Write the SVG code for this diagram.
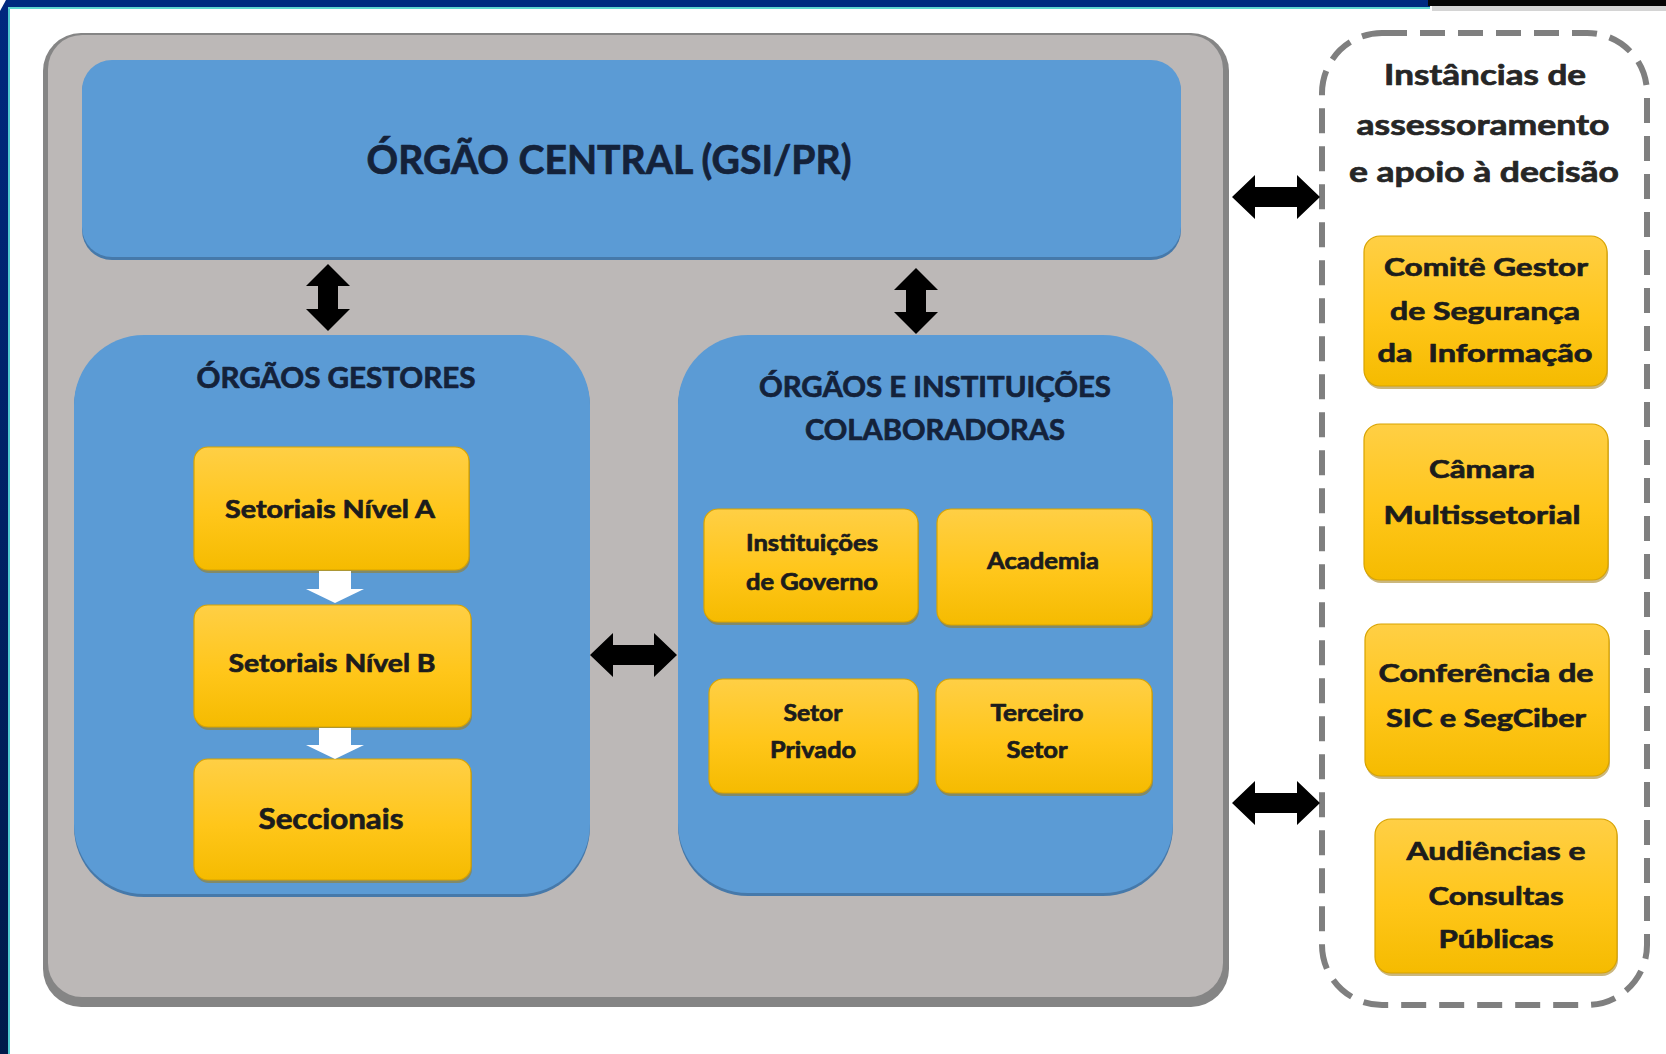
<svg xmlns="http://www.w3.org/2000/svg" width="1666" height="1054" viewBox="0 0 1666 1054">
<defs>
<linearGradient id="yel" x1="0" y1="0" x2="0" y2="1">
<stop offset="0" stop-color="#ffcf45"/>
<stop offset="0.55" stop-color="#ffc61a"/>
<stop offset="1" stop-color="#f5bb00"/>
</linearGradient>
<linearGradient id="navy" x1="0" y1="0" x2="0" y2="1">
<stop offset="0" stop-color="#00287f"/>
<stop offset="1" stop-color="#001a4a"/>
</linearGradient>
</defs>
<style>
.blue{fill:#5b9bd5}
.bsh{fill:#4679aa}
.ysh{fill:#a07c12;opacity:0.55}
.yb{fill:url(#yel);stroke:#d8a300;stroke-width:1.2}
.t{font-family:Lato,"Liberation Sans",sans-serif;font-weight:700;text-anchor:middle;stroke-width:0.7;stroke-linejoin:round}
.tb{fill:#14223a;stroke:#14223a}
.ty{fill:#1c1c1c;stroke:#1c1c1c}
.td{fill:#262626;stroke:#262626}
.arr{fill:#000000}
.warr{fill:#ffffff}
</style>
<rect x="0" y="0" width="1666" height="1054" fill="#ffffff"/>
<g id="frame">
<rect x="0" y="0" width="1430" height="7" fill="#002a80"/>
<rect x="8" y="7" width="1422" height="2" fill="#5fd6d0"/>
<rect x="0" y="0" width="8" height="1054" fill="url(#navy)"/>
<rect x="8" y="9" width="2" height="1045" fill="#4fc9cf"/>
<rect x="1428" y="0" width="238" height="6" fill="#050505"/>
<rect x="1432" y="6" width="234" height="5" fill="#a9a9a9" opacity="0.5"/>
<polygon points="0,0 6,0 0,11" fill="#ffffff"/>
</g>
<g id="container">
<rect x="43" y="33" width="1186" height="974" rx="38" fill="#858585"/>
<rect x="48" y="35" width="1175" height="962" rx="34" fill="#bcb8b7"/>
</g>
<g id="orgao-central">
<rect x="82" y="62" width="1099" height="198" rx="30" class="bsh"/>
<rect x="82" y="60" width="1099" height="197" rx="30" class="blue"/>
<text x="609" y="174" class="t tb" font-size="41" textLength="485" lengthAdjust="spacingAndGlyphs">ÓRGÃO CENTRAL (GSI/PR)</text>
</g>
<g id="orgaos-gestores">
<rect x="74" y="337" width="516" height="560" rx="70" class="bsh"/>
<rect x="74" y="335" width="516" height="559" rx="70" class="blue"/>
<text x="336" y="388" class="t tb" font-size="28" textLength="279" lengthAdjust="spacingAndGlyphs">ÓRGÃOS GESTORES</text>
</g>
<g id="setoriais-a">
<rect x="195" y="450" width="275" height="123" rx="14" class="ysh"/>
<rect x="194" y="447" width="275" height="123" rx="14" class="yb"/>
<text x="330" y="518" class="t ty" font-size="25" textLength="210" lengthAdjust="spacingAndGlyphs">Setoriais Nível A</text>
</g>
<g id="setoriais-b">
<rect x="195" y="608" width="277" height="122" rx="14" class="ysh"/>
<rect x="194" y="605" width="277" height="122" rx="14" class="yb"/>
<text x="332" y="672" class="t ty" font-size="25" textLength="207" lengthAdjust="spacingAndGlyphs">Setoriais Nível B</text>
</g>
<g id="seccionais">
<rect x="195" y="762" width="277" height="121" rx="14" class="ysh"/>
<rect x="194" y="759" width="277" height="121" rx="14" class="yb"/>
<text x="331" y="829" class="t ty" font-size="28" textLength="145" lengthAdjust="spacingAndGlyphs">Seccionais</text>
</g>
<g id="orgaos-colaboradoras">
<rect x="678" y="337" width="495" height="559" rx="70" class="bsh"/>
<rect x="678" y="335" width="495" height="558" rx="70" class="blue"/>
<text x="935" y="397" class="t tb" font-size="28" textLength="352" lengthAdjust="spacingAndGlyphs">ÓRGÃOS E INSTITUIÇÕES</text>
<text x="935" y="440" class="t tb" font-size="28" textLength="260" lengthAdjust="spacingAndGlyphs">COLABORADORAS</text>
</g>
<g id="instituicoes-governo">
<rect x="705" y="512" width="214" height="113" rx="14" class="ysh"/>
<rect x="704" y="509" width="214" height="113" rx="14" class="yb"/>
<text x="812" y="551" class="t ty" font-size="22" textLength="132" lengthAdjust="spacingAndGlyphs">Instituições</text>
<text x="812" y="590" class="t ty" font-size="22" textLength="132" lengthAdjust="spacingAndGlyphs">de Governo</text>
</g>
<g id="academia">
<rect x="938" y="512" width="215" height="116" rx="14" class="ysh"/>
<rect x="937" y="509" width="215" height="116" rx="14" class="yb"/>
<text x="1043" y="569" class="t ty" font-size="22" textLength="112" lengthAdjust="spacingAndGlyphs">Academia</text>
</g>
<g id="setor-privado">
<rect x="710" y="682" width="209" height="114" rx="14" class="ysh"/>
<rect x="709" y="679" width="209" height="114" rx="14" class="yb"/>
<text x="813" y="721" class="t ty" font-size="22" textLength="59" lengthAdjust="spacingAndGlyphs">Setor</text>
<text x="813" y="758" class="t ty" font-size="22" textLength="86" lengthAdjust="spacingAndGlyphs">Privado</text>
</g>
<g id="terceiro-setor">
<rect x="937" y="682" width="216" height="114" rx="14" class="ysh"/>
<rect x="936" y="679" width="216" height="114" rx="14" class="yb"/>
<text x="1037" y="721" class="t ty" font-size="22" textLength="93" lengthAdjust="spacingAndGlyphs">Terceiro</text>
<text x="1037" y="758" class="t ty" font-size="22" textLength="61" lengthAdjust="spacingAndGlyphs">Setor</text>
</g>
<g id="instancias">
<rect x="1322" y="33" width="325" height="972" rx="60" fill="#ffffff" stroke="#7f7f7f" stroke-width="6" stroke-dasharray="25 13"/>
<text x="1485" y="85" class="t td" font-size="29" textLength="202" lengthAdjust="spacingAndGlyphs">Instâncias de</text>
<text x="1483" y="135" class="t td" font-size="29" textLength="253" lengthAdjust="spacingAndGlyphs">assessoramento</text>
<text x="1484" y="182" class="t td" font-size="29" textLength="270" lengthAdjust="spacingAndGlyphs">e apoio à decisão</text>
</g>
<g id="comite-gestor">
<rect x="1365" y="239" width="243" height="150" rx="16" class="ysh"/>
<rect x="1364" y="236" width="243" height="150" rx="16" class="yb"/>
<text x="1486" y="276" class="t ty" font-size="25" textLength="204" lengthAdjust="spacingAndGlyphs">Comitê Gestor</text>
<text x="1485" y="320" class="t ty" font-size="25" textLength="190" lengthAdjust="spacingAndGlyphs">de Segurança</text>
<text x="1485" y="362" class="t ty" font-size="25" textLength="215" lengthAdjust="spacingAndGlyphs" style="white-space:pre">da  Informação</text>
</g>
<g id="camara-multissetorial">
<rect x="1365" y="427" width="244" height="156" rx="16" class="ysh"/>
<rect x="1364" y="424" width="244" height="156" rx="16" class="yb"/>
<text x="1482" y="478" class="t ty" font-size="25" textLength="106" lengthAdjust="spacingAndGlyphs">Câmara</text>
<text x="1482" y="524" class="t ty" font-size="25" textLength="197" lengthAdjust="spacingAndGlyphs">Multissetorial</text>
</g>
<g id="conferencia">
<rect x="1366" y="627" width="244" height="152" rx="16" class="ysh"/>
<rect x="1365" y="624" width="244" height="152" rx="16" class="yb"/>
<text x="1486" y="682" class="t ty" font-size="25" textLength="215" lengthAdjust="spacingAndGlyphs">Conferência de</text>
<text x="1486" y="727" class="t ty" font-size="25" textLength="200" lengthAdjust="spacingAndGlyphs">SIC e SegCiber</text>
</g>
<g id="audiencias">
<rect x="1376" y="822" width="242" height="154" rx="16" class="ysh"/>
<rect x="1375" y="819" width="242" height="154" rx="16" class="yb"/>
<text x="1496" y="860" class="t ty" font-size="25" textLength="179" lengthAdjust="spacingAndGlyphs">Audiências e</text>
<text x="1496" y="905" class="t ty" font-size="25" textLength="135" lengthAdjust="spacingAndGlyphs">Consultas</text>
<text x="1496" y="948" class="t ty" font-size="25" textLength="115" lengthAdjust="spacingAndGlyphs">Públicas</text>
</g>
<g id="connectors">
<path class="arr" d="M328,264 L350,286 L338,286 L338,309 L350,309 L328,331 L306,309 L318,309 L318,286 L306,286 Z"/>
<path class="arr" d="M916,268 L938,290 L926,290 L926,312 L938,312 L916,334 L894,312 L906,312 L906,290 L894,290 Z"/>
<path class="arr" d="M590,655 L613,633 L613,645 L654,645 L654,633 L677,655 L654,677 L654,665 L613,665 L613,677 Z"/>
<path class="arr" d="M1232,197 L1255,175 L1255,187 L1297,187 L1297,175 L1320,197 L1297,219 L1297,207 L1255,207 L1255,219 Z"/>
<path class="arr" d="M1232,803 L1255,781 L1255,793 L1297,793 L1297,781 L1320,803 L1297,825 L1297,813 L1255,813 L1255,825 Z"/>
<path class="warr" d="M319,571 L351,571 L351,589 L364,589 L335,603 L306,589 L319,589 Z"/>
<path class="warr" d="M319,728 L351,728 L351,745 L364,745 L335,759 L306,745 L319,745 Z"/>
</g>
</svg>
